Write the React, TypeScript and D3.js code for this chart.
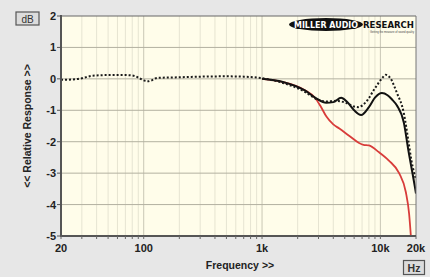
import React from "react";
import * as d3 from "d3";

const W = 430;
const H = 277;

const yTicks = [2, 1, 0, -1, -2, -3, -4, -5];
const xTickVals = [20, 100, 1000, 10000, 20000];
const xTickLabels = ["20", "100", "1k", "10k", "20k"];
const minorFreqs = [30, 40, 50, 60, 70, 80, 90, 200, 300, 400, 500, 600, 700, 800, 900, 2000, 3000, 4000, 5000, 6000, 7000, 8000, 9000];

const dottedF = [20, 25, 30, 37, 50, 70, 82, 92, 100, 108, 118, 130, 200, 300, 500, 700, 1000, 1500, 2270, 2870, 3500, 4200, 5000, 6000, 6500, 7500, 9000, 10500, 11100, 12000, 13800, 15800, 17200, 18300, 20000];
const dottedDb = [-0.03, -0.02, 0.02, 0.1, 0.12, 0.12, 0.1, 0.02, -0.05, -0.08, -0.04, 0.03, 0.05, 0.07, 0.08, 0.07, 0.02, -0.13, -0.4, -0.64, -0.72, -0.7, -0.75, -0.88, -0.9, -0.75, -0.3, 0.05, 0.13, 0.05, -0.45, -1.1, -1.95, -2.6, -3.2];

const solidF = [1000, 1500, 2300, 2870, 3480, 4000, 4660, 5200, 6000, 6870, 8000, 9000, 10300, 11500, 12500, 13800, 15800, 17200, 19600, 20000];
const solidDb = [0, -0.1, -0.37, -0.62, -0.76, -0.74, -0.6, -0.72, -1.0, -1.15, -0.9, -0.6, -0.45, -0.52, -0.65, -0.85, -1.4, -2.25, -3.45, -3.65];

const redF = [1000, 1500, 2300, 2800, 3100, 3500, 4000, 4500, 5400, 6600, 7200, 8000, 9700, 11800, 14400, 16400, 17500, 18100];
const redDb = [0, -0.1, -0.36, -0.6, -0.85, -1.2, -1.45, -1.58, -1.8, -2.04, -2.1, -2.12, -2.33, -2.6, -3.0, -3.6, -4.3, -5.0];

const L = 61, R = 416, T = 16, B = 236;

export default function App() {
  const x = d3.scaleLog().domain([20, 20000]).range([L, R]);
  const y = d3.scaleLinear().domain([-5, 2]).range([B, T]);
  const line = d3
    .line<[number, number]>()
    .x((d) => x(d[0]))
    .y((d) => y(d[1]))
    .curve(d3.curveMonotoneX);
  const dotted = line(dottedF.map((f, i) => [f, dottedDb[i]]));
  const solid = line(solidF.map((f, i) => [f, solidDb[i]]));
  const red = line(redF.map((f, i) => [f, redDb[i]]));
  const font = "'Liberation Sans', Arial, sans-serif";

  return (
    <svg width={W} height={H} style={{ position: "absolute", left: 0, top: 0 }} fontFamily={font}>
      <defs>
        <clipPath id="plotclip">
          <rect x={L} y={T - 2} width={R - L} height={B - T + 4} />
        </clipPath>
      </defs>
      <rect x={0} y={0} width={W} height={H} fill="#e7e7e7" />
      <rect x={L} y={T} width={R - L} height={B - T} fill="#fffdea" />
      {minorFreqs.map((f) => (
        <line key={"m" + f} x1={x(f)} x2={x(f)} y1={T} y2={B} stroke="#e6e4d2" strokeWidth={1} />
      ))}
      {[100, 1000, 10000].map((f) => (
        <line key={"M" + f} x1={x(f)} x2={x(f)} y1={T} y2={B} stroke="#c9c7b5" strokeWidth={1} />
      ))}
      {yTicks.slice(1, -1).map((v) => (
        <line key={"g" + v} x1={L} x2={R} y1={y(v)} y2={y(v)} stroke="#b3b1a0" strokeWidth={1} />
      ))}
      {/* logo */}
      <ellipse cx={326} cy={24.5} rx={37} ry={6.5} fill="#111" />
      <text x={294} y={27.5} fill="#fff" fontSize={8} fontWeight="bold" fontFamily="'DejaVu Sans', sans-serif" textLength={64} lengthAdjust="spacingAndGlyphs">
        MILLER AUDIO
      </text>
      <text x={363} y={27.5} fill="#111" fontSize={8} fontWeight="bold" fontFamily="'DejaVu Sans', sans-serif" textLength={51} lengthAdjust="spacingAndGlyphs">
        RESEARCH
      </text>
      <text x={370} y={33} fill="#444" fontSize={3.2} textLength={44} lengthAdjust="spacingAndGlyphs">
        Getting the measure of sound quality
      </text>
      <g clipPath="url(#plotclip)">
        <path d={red ?? ""} fill="none" stroke="#d83c3a" strokeWidth={1.8} strokeLinejoin="round" />
        <path d={solid ?? ""} fill="none" stroke="#111" strokeWidth={2} strokeLinejoin="round" />
        <path d={dotted ?? ""} fill="none" stroke="#1a1a1a" strokeWidth={2} strokeDasharray="2 2" />
      </g>
      {/* frame */}
      <line x1={L} x2={R} y1={T} y2={T} stroke="#666" strokeWidth={1} />
      <line x1={R} x2={R} y1={T} y2={B} stroke="#777" strokeWidth={1} />
      <line x1={L} x2={L} y1={T - 1} y2={B + 1} stroke="#555" strokeWidth={2} />
      <line x1={L - 1} x2={R} y1={B} y2={B} stroke="#555" strokeWidth={2} />
      {yTicks.map((v) => (
        <g key={"yt" + v}>
          <line x1={L - 4} x2={L} y1={y(v)} y2={y(v)} stroke="#555" strokeWidth={1} />
          <text x={L - 5} y={y(v) + 4} textAnchor="end" fontSize={11} fontWeight="bold" fill="#222">
            {v}
          </text>
        </g>
      ))}
      {[...xTickVals, ...minorFreqs].map((f) => (
        <line key={"xt" + f} x1={x(f)} x2={x(f)} y1={B} y2={B + 3} stroke="#666" strokeWidth={1} />
      ))}
      {xTickVals.map((f, i) => (
        <text key={"xl" + f} x={x(f)} y={252} textAnchor="middle" fontSize={11} fontWeight="bold" fill="#222">
          {xTickLabels[i]}
        </text>
      ))}
      <text x={240} y={269} textAnchor="middle" fontSize={10.5} fontWeight="bold" fill="#222">
        Frequency &gt;&gt;
      </text>
      <text
        transform={`translate(31,126) rotate(-90)`}
        textAnchor="middle"
        fontSize={10.5}
        fontWeight="bold"
        fill="#222"
      >
        &lt;&lt; Relative Response &gt;&gt;
      </text>
      <rect x={16} y={12} width={23} height={13} fill="#dcdcdc" stroke="#555" strokeWidth={1.2} />
      <text x={27.5} y={22.5} textAnchor="middle" fontSize={10} fill="#333">
        dB
      </text>
      <rect x={403.5} y={260.5} width={21} height={14} fill="#dcdcdc" stroke="#555" strokeWidth={1.2} />
      <text x={414} y={271.5} textAnchor="middle" fontSize={10.5} fontWeight="bold" fill="#333">
        Hz
      </text>
    </svg>
  );
}
